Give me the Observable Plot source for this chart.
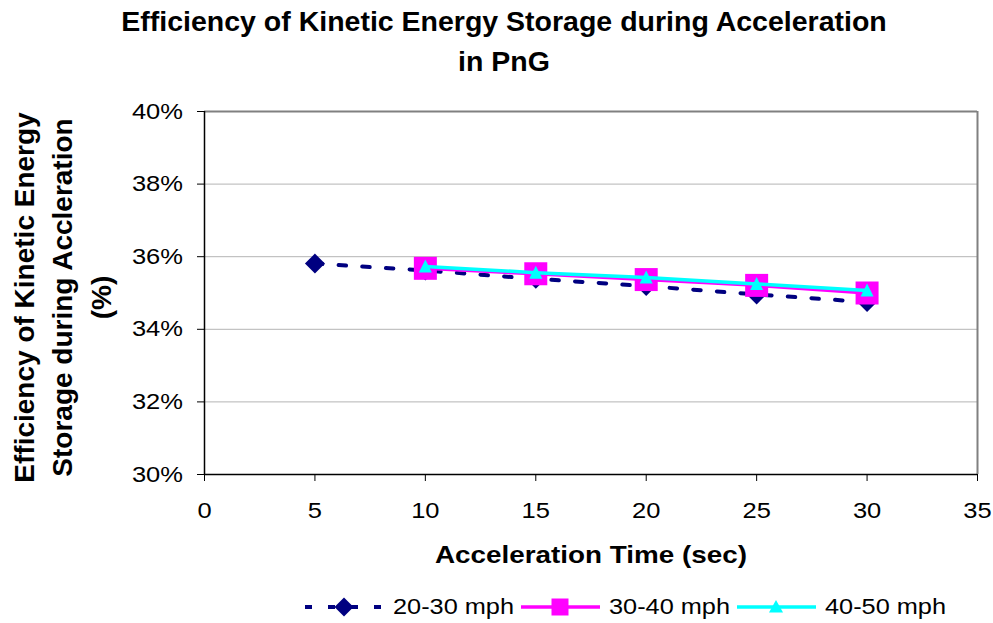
<!DOCTYPE html>
<html>
<head>
<meta charset="utf-8">
<script src="https://cdn.jsdelivr.net/npm/d3@7"></script>
<script src="https://cdn.jsdelivr.net/npm/@observablehq/plot@0.6"></script>
<style>
  html, body { margin: 0; padding: 0; background: #fff; }
  body { width: 993px; height: 623px; position: relative; overflow: hidden;
         font-family: "Liberation Sans", Arial, sans-serif; color: #000; }
  #title { position: absolute; left: 0; top: 0; width: 993px; box-sizing: border-box;
           padding-left: 15px; padding-top: 2px; text-align: center;
           font-weight: bold; font-size: 28.5px; line-height: 39.5px; }
  #chart { position: absolute; left: 0; top: 85px; }
  #legend { position: absolute; left: 0; top: 594px; width: 993px; height: 26px; }
  .item { position: absolute; top: 0; height: 26px; display: flex; align-items: center; }
  .item svg { display: block; }
  .lab { display: inline-block; margin-left: 8px; width: 110px; font-size: 22px; line-height: 26px;
         white-space: nowrap; transform: scaleX(1.15); transform-origin: left center; }
</style>
</head>
<body>
<div id="title">Efficiency of Kinetic Energy Storage during Acceleration<br>in PnG</div>
<div id="chart"></div>
<div id="legend"></div>
<script>
// Acceleration time (sec) and storage efficiency (%) per speed range
const time2030 = [5, 10, 15, 20, 25, 30];
const eff2030  = [35.81, 35.62, 35.39, 35.19, 34.96, 34.75];
const time3040 = [10, 15, 20, 25, 30];
const eff3040  = [35.68, 35.53, 35.37, 35.21, 35.00];
const time4050 = [10, 15, 20, 25, 30];
const eff4050  = [35.73, 35.56, 35.43, 35.25, 35.07];

const seriesNames  = ["20-30 mph", "30-40 mph", "40-50 mph"];
const seriesColors = ["#000080", "#ff00ff", "#00ffff"];

const xTicks = [0, 5, 10, 15, 20, 25, 30, 35];
const yTicks = [30, 32, 34, 36, 38, 40];

const rows = (name, xs, ys) => xs.map((t, i) => ({series: name, time: t, eff: ys[i]}));
const s2030 = rows(seriesNames[0], time2030, eff2030);
const s3040 = rows(seriesNames[1], time3040, eff3040);
const s4050 = rows(seriesNames[2], time4050, eff4050);

// Marker shapes; the dot mark passes size = PI * r^2
const half = size => Math.sqrt(size / Math.PI);
const diamond = {draw(c, size) { const s = half(size);
  c.moveTo(0, -s); c.lineTo(s, 0); c.lineTo(0, s); c.lineTo(-s, 0); c.closePath(); }};
const square = {draw(c, size) { const s = half(size);
  c.moveTo(-s, -s); c.lineTo(s, -s); c.lineTo(s, s); c.lineTo(-s, s); c.closePath(); }};
const triangle = {draw(c, size) { const s = half(size);
  c.moveTo(0, -s); c.lineTo(s * 0.93, s * 0.86); c.lineTo(-s * 0.93, s * 0.86); c.closePath(); }};

const font = '"Liberation Sans", Arial, sans-serif';

const chart = Plot.plot({
  width: 993,
  height: 505,
  marginTop: 26,
  marginRight: 16,
  marginBottom: 116,
  marginLeft: 204,
  style: {fontFamily: font, fontSize: "22px", color: "#000", background: "#fff", overflow: "visible"},
  x: {domain: [0, 35]},
  y: {domain: [30, 40]},
  marks: [
    Plot.gridY(yTicks.filter(d => d > 30 && d < 40), {stroke: "#b4b4b4", strokeOpacity: 1, strokeWidth: 1}),
    Plot.ruleY([40], {stroke: "#808080", strokeWidth: 2}),
    Plot.ruleX([35], {stroke: "#808080", strokeWidth: 2}),
    Plot.ruleX([0], {stroke: "#000", strokeWidth: 1.5}),
    Plot.ruleY([30], {stroke: "#000", strokeWidth: 1.5}),
    Plot.axisX(xTicks, {tickSize: 7, tickPadding: 21, fontSize: 22, label: null}),
    Plot.axisY(yTicks, {tickSize: 7, tickPadding: 14.5, fontSize: 22, label: null, tickFormat: d => `${d}%`}),

    Plot.line(s2030, {x: "time", y: "eff", stroke: seriesColors[0], strokeWidth: 4, strokeDasharray: "7.5,16.2"}),
    Plot.dot(s2030, {x: "time", y: "eff", symbol: diamond, r: 10, fill: seriesColors[0], stroke: "none"}),
    Plot.line(s3040, {x: "time", y: "eff", stroke: seriesColors[1], strokeWidth: 3.5}),
    Plot.dot(s3040, {x: "time", y: "eff", symbol: square, r: 11.5, fill: seriesColors[1], stroke: "none"}),
    Plot.line(s4050, {x: "time", y: "eff", stroke: seriesColors[2], strokeWidth: 3.5}),
    Plot.dot(s4050, {x: "time", y: "eff", symbol: triangle, r: 7, fill: seriesColors[2], stroke: "none"}),

    Plot.text(["Acceleration Time (sec)"], {text: d => d, frameAnchor: "bottom", dy: 88,
      fontSize: 24, fontWeight: "bold"}),
    Plot.text(["Efficiency of Kinetic Energy\nStorage during Accleration\n(%)"], {text: d => d,
      frameAnchor: "left", textAnchor: "middle", rotate: -90, dx: -94, dy: 4.5,
      lineAnchor: "bottom", lineHeight: 1.375,
      fontSize: 28, fontWeight: "bold"})
  ]
});

// Widen the horizontal axis lettering around each label's anchor (rotated title left as is)
const SX = 1.16;
chart.querySelectorAll("text").forEach(t => {
  const tr = t.getAttribute("transform");
  if (tr && tr.includes("rotate")) return;
  if (tr) {
    t.setAttribute("transform", `${tr} scale(${SX},1)`);
  } else {
    const x = +t.getAttribute("x") || 0, y = +t.getAttribute("y") || 0;
    t.removeAttribute("x"); t.removeAttribute("y");
    t.setAttribute("transform", `translate(${x},${y}) scale(${SX},1)`);
  }
});
document.getElementById("chart").appendChild(chart);

// Legend below the plot
const ns = "http://www.w3.org/2000/svg";
const legend = document.getElementById("legend");
const itemLeft = [305, 521, 737];
const markerPath = [
  "M0,-9.5L9.5,0L0,9.5L-9.5,0Z",
  "M-8.5,-8.5L8.5,-8.5L8.5,8.5L-8.5,8.5Z",
  "M0,-7L7,5.5L-7,5.5Z"
];
seriesNames.forEach((name, i) => {
  const item = document.createElement("div");
  item.className = "item";
  item.style.left = itemLeft[i] + "px";
  const svg = document.createElementNS(ns, "svg");
  svg.setAttribute("width", 80);
  svg.setAttribute("height", 26);
  const line = document.createElementNS(ns, "line");
  line.setAttribute("x1", 0); line.setAttribute("x2", 79);
  line.setAttribute("y1", 13); line.setAttribute("y2", 13);
  line.setAttribute("stroke", seriesColors[i]);
  line.setAttribute("stroke-width", i === 0 ? 4 : 3.5);
  if (i === 0) line.setAttribute("stroke-dasharray", "7,16");
  svg.appendChild(line);
  const m = document.createElementNS(ns, "path");
  m.setAttribute("d", markerPath[i]);
  m.setAttribute("transform", "translate(39,13)");
  m.setAttribute("fill", seriesColors[i]);
  svg.appendChild(m);
  item.appendChild(svg);
  const lab = document.createElement("span");
  lab.className = "lab";
  lab.textContent = name;
  item.appendChild(lab);
  legend.appendChild(item);
});
</script>
</body>
</html>
